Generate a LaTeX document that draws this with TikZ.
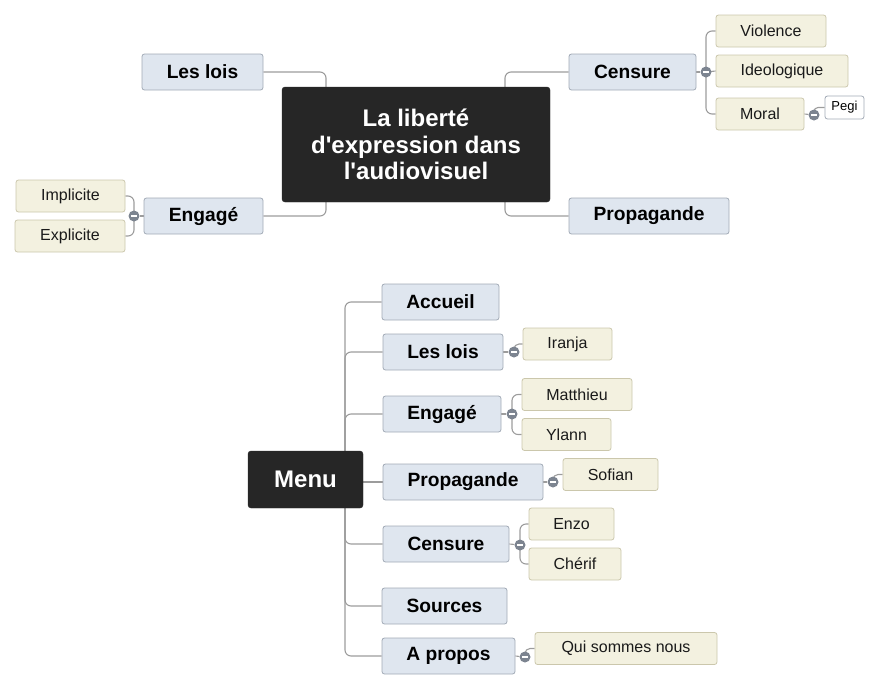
\documentclass[tikz,border=0pt]{standalone}
\usepackage{fontspec}
\setmainfont{Liberation Sans}
\usetikzlibrary{backgrounds}
\definecolor{darkbox}{HTML}{262626}
\definecolor{bluefill}{HTML}{DFE6EF}
\definecolor{blueline}{HTML}{A2AAB6}
\definecolor{beigefill}{HTML}{F3F1E0}
\definecolor{beigeline}{HTML}{CBC7AC}
\definecolor{conncol}{HTML}{9C9C9C}
\definecolor{knobcol}{HTML}{7C8490}
\definecolor{txtcol}{HTML}{1A1A1A}
\tikzset{
  rootbox/.style={fill=darkbox, draw=darkbox, rounded corners=3pt, text=white, align=center, inner sep=0pt,
    font=\fontsize{24}{26.5}\selectfont\bfseries},
  bluebox/.style={fill=bluefill, draw=blueline, line width=0.8pt, rounded corners=2.5pt, inner sep=0pt,
    minimum height=36pt, text=black, font=\fontsize{19.2}{21}\selectfont\bfseries},
  beigebox/.style={fill=beigefill, draw=beigeline, line width=0.8pt, rounded corners=2.5pt, inner sep=0pt,
    minimum height=32pt, text=txtcol, font=\fontsize{16}{18}\selectfont},
  whitebox/.style={fill=white, draw=blueline, line width=0.8pt, rounded corners=2.5pt, inner sep=0pt,
    text=black, font=\fontsize{13}{15}\selectfont},
  conn/.style={draw=conncol, line width=1.1pt, rounded corners=6pt},
  knob/.style={circle, fill=knobcol, inner sep=0pt, minimum size=11pt,
    path picture={\draw[white, line width=1.4pt]
      ([xshift=-3pt]path picture bounding box.center) -- ([xshift=3pt]path picture bounding box.center);}}
}
\begin{document}
\begin{tikzpicture}[x=1pt,y=-1pt]
\useasboundingbox (0,0) rectangle (879,689);

% ---------- top map ----------
\node[rootbox, minimum width=268pt, minimum height=115pt] (title) at (416,144.5)
  {La liberté\\d\textquotesingle expression dans\\l\textquotesingle audiovisuel};
\node[bluebox, minimum width=121pt] (lois1) at (202.5,72) {Les lois};
\node[bluebox, minimum width=119pt] (eng1) at (203.5,216) {Engagé};
\node[bluebox, minimum width=127pt] (cens1) at (632.5,72) {Censure};
\node[bluebox, minimum width=160pt] (prop1) at (649,216) {Propagande};
\node[beigebox, minimum width=110pt] (viol) at (771,31) {Violence};
\node[beigebox, minimum width=132pt] (ideo) at (782,71) {Ideologique};
\node[beigebox, minimum width=88pt] (moral) at (760,114) {Moral};
\node[whitebox, minimum width=39pt, minimum height=23pt] (pegi) at (844.5,107.5) {Pegi};
\node[beigebox, minimum width=109pt] (impl) at (70.5,196) {Implicite};
\node[beigebox, minimum width=110pt] (expl) at (70,236) {Explicite};

\coordinate (tl) at (326,87);
\coordinate (bl) at (326,201);
\coordinate (tr) at (505,87);
\coordinate (br) at (505,201);
\node[knob] (kc1) at (706,72) {};
\node[knob] (km) at (814,115) {};
\node[knob] (ke1) at (134,216) {};

% ---------- bottom map ----------
\node[rootbox, minimum width=115pt, minimum height=57pt] (menu) at (305.5,479.5) {Menu};
\node[bluebox, minimum width=117pt] (acc) at (440.5,302) {Accueil};
\node[bluebox, minimum width=120pt] (lois2) at (443,352) {Les lois};
\node[bluebox, minimum width=118pt] (eng2) at (442,414) {Engagé};
\node[bluebox, minimum width=160pt] (prop2) at (463,482) {Propagande};
\node[bluebox, minimum width=126pt] (cens2) at (446,544) {Censure};
\node[bluebox, minimum width=125pt] (src) at (444.5,606) {Sources};
\node[bluebox, minimum width=133pt] (apr) at (448.5,656) {A propos};
\node[beigebox, minimum width=89pt] (iranja) at (567.5,344) {Iranja};
\node[beigebox, minimum width=110pt] (matt) at (577,394.5) {Matthieu};
\node[beigebox, minimum width=89pt] (ylann) at (566.5,434.5) {Ylann};
\node[beigebox, minimum width=95pt] (sofian) at (610.5,474.5) {Sofian};
\node[beigebox, minimum width=85pt] (enzo) at (571.5,524) {Enzo};
\node[beigebox, minimum width=92pt] (cherif) at (575,564) {Chérif};
\node[beigebox, minimum width=182pt] (qui) at (626,648.5) {Qui sommes nous};

\coordinate (mt) at (345,482);
\node[knob] (kl2) at (514,352) {};
\node[knob] (ke2) at (512,414) {};
\node[knob] (kp2) at (553,482) {};
\node[knob] (kc2) at (520,545) {};
\node[knob] (ka2) at (525,657) {};

\begin{scope}[on background layer]
  % top
  \draw[conn] (lois1.east) -| (tl);
  \draw[conn] (eng1.east) -| (bl);
  \draw[conn] (cens1.west) -| (tr);
  \draw[conn] (prop1.west) -| (br);
  \draw[conn] (cens1.east) -- (kc1);
  \draw[conn] (kc1.center) |- (viol.west);
  \draw[conn] (kc1.center) -- (ideo.west);
  \draw[conn] (kc1.center) |- (moral.west);
  \draw[conn] (moral.east) -- (km);
  \draw[conn, rounded corners=4pt] (km.center) |- (pegi.west);
  \draw[conn] (eng1.west) -- (ke1);
  \draw[conn] (ke1.center) |- (impl.east);
  \draw[conn] (ke1.center) |- (expl.east);
  % bottom
  \draw[conn] (mt) |- (acc.west);
  \draw[conn] (mt) |- (lois2.west);
  \draw[conn] (mt) |- (eng2.west);
  \draw[conn] (mt) -- (prop2.west);
  \draw[conn] (mt) |- (cens2.west);
  \draw[conn] (mt) |- (src.west);
  \draw[conn] (mt) |- (apr.west);
  \draw[conn] (lois2.east) -- (kl2);
  \draw[conn, rounded corners=5pt] (kl2.center) |- (iranja.west);
  \draw[conn] (eng2.east) -- (ke2);
  \draw[conn] (ke2.center) |- (matt.west);
  \draw[conn] (ke2.center) |- (ylann.west);
  \draw[conn] (prop2.east) -- (kp2);
  \draw[conn, rounded corners=5pt] (kp2.center) |- (sofian.west);
  \draw[conn] (cens2.east) -- (kc2);
  \draw[conn] (kc2.center) |- (enzo.west);
  \draw[conn] (kc2.center) |- (cherif.west);
  \draw[conn] (apr.east) -- (ka2);
  \draw[conn, rounded corners=5pt] (ka2.center) |- (qui.west);
\end{scope}
\end{tikzpicture}
\end{document}
